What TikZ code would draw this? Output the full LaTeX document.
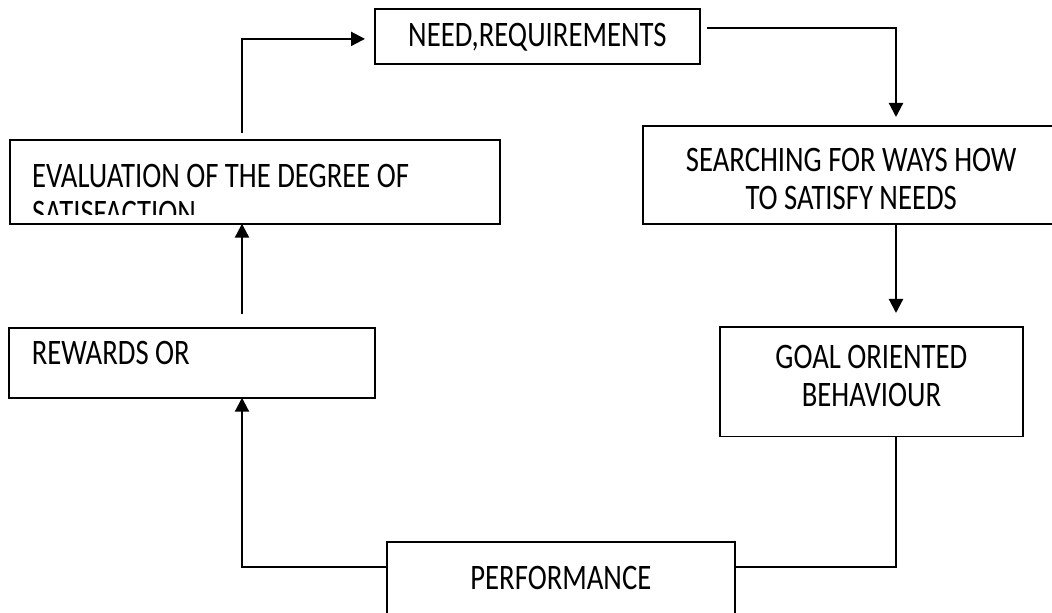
\documentclass[tikz,border=0pt]{standalone}
\usepackage{fontspec}
\setmainfont{Carlito}[FakeStretch=0.8]
\usetikzlibrary{arrows.meta}
\begin{document}
\begin{tikzpicture}[x=1bp,y=-1bp,
  box/.style={draw=black, line width=1.8bp, inner sep=0pt, outer sep=0pt, anchor=north west,
    font=\fontsize{36}{38}\selectfont},
  txt/.style={inner sep=0pt, outer sep=0pt, font=\fontsize{36}{38}\selectfont},
  conn/.style={line width=2.2bp, -{Triangle[length=14bp,width=14bp]}},
  plain/.style={line width=1.6bp}]
\useasboundingbox (0,0) rectangle (1052,613);
% helper coordinates for connector lines
\coordinate (lx) at (242,0);
\coordinate (rx) at (896,0);
\coordinate (by) at (0,567);
% boxes
\node[box, minimum width=326, text height=38, text depth=17] (need) at (375,9) {NEED,REQUIREMENTS};
\node[box, minimum width=418, align=center, text height=84, text depth=14] (search) at (643,126)
  {SEARCHING FOR WAYS HOW\\TO SATISFY NEEDS};
\node[box, minimum width=304, align=center, text height=80, text depth=30] (goal) at (720,327)
  {GOAL ORIENTED\\BEHAVIOUR};
\node[box, minimum width=349, text height=48, text depth=30] (perf) at (387,542) {PERFORMANCE};
\node[box, minimum width=367, text width=321, align=flush left, inner xsep=23, text height=37, text depth=33] (rew) at (9,328) {REWARDS OR};
\node[box, minimum width=492, minimum height=84] (eval) at (10,140) {};
\begin{scope}
  \clip (eval.north west) rectangle ([yshift=9bp]eval.south east);
  \node[txt, anchor=base west, align=left] (evaltext) at (32,225)
    {EVALUATION OF THE DEGREE OF\\SATISFACTION};
\end{scope}
% connectors
\draw[conn, shorten <=7bp, shorten >=10bp] (eval.north -| lx) |- ([yshift=-2.5bp]need.west);
\draw[conn, shorten <=7bp, shorten >=9bp] ([yshift=8.5bp]need.east) -| (search.north -| rx);
\draw[conn, shorten >=14bp] (search.south -| rx) -- (goal.north -| rx);
\draw[plain] (goal.south -| rx) |- (perf.east |- by);
\draw[conn] (perf.west |- by) -| (rew.south -| lx);
\draw[conn, shorten <=14bp] (rew.north -| lx) -- (eval.south -| lx);
\end{tikzpicture}
\end{document}
